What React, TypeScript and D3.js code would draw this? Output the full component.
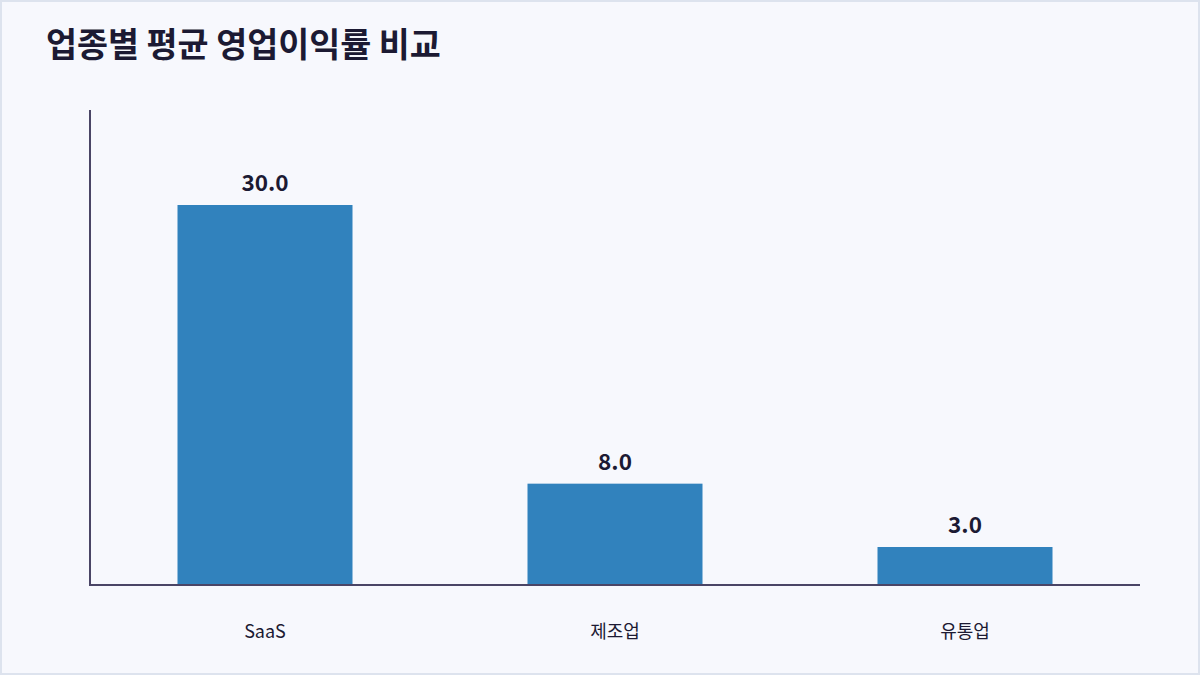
import React, { useEffect, useRef } from 'react';
import * as d3 from 'd3';

const categories = ['SaaS', '제조업', '유통업'];
const margins = [30.0, 8.0, 3.0];
const titleText = '업종별 평균 영업이익률 비교';

const W = 1200;
const H = 675;
const FONT = '"Noto Sans CJK KR", "Noto Sans", sans-serif';

const App: React.FC = () => {
  const svgRef = useRef<SVGSVGElement>(null);

  useEffect(() => {
    if (!svgRef.current) return;
    const svg = d3.select(svgRef.current);
    svg.selectAll('*').remove();

    svg.append('rect')
      .attr('x', 1).attr('y', 1)
      .attr('width', W - 2).attr('height', H - 2)
      .attr('fill', '#f7f8fd')
      .attr('stroke', '#dde3ee')
      .attr('stroke-width', 2);

    svg.append('text')
      .attr('x', 46).attr('y', 57)
      .attr('font-family', FONT)
      .attr('font-size', 33.7)
      .attr('font-weight', 700)
      .attr('fill', '#1c1a33')
      .text(titleText);

    const left = 90, right = 1140, top = 110, bottom = 585;

    const x = d3.scaleBand<string>()
      .domain(categories)
      .range([left, right])
      .paddingInner(0.5)
      .paddingOuter(0.25);

    const y = d3.scaleLinear()
      .domain([0, d3.max(margins)! * 1.25])
      .range([bottom, top]);

    const g = svg.append('g');

    g.selectAll('.bar')
      .data(margins)
      .enter()
      .append('rect')
      .attr('x', (_d, i) => x(categories[i])!)
      .attr('y', d => y(d))
      .attr('width', x.bandwidth())
      .attr('height', d => bottom - y(d))
      .attr('fill', '#3182bd');

    g.selectAll('.val')
      .data(margins)
      .enter()
      .append('text')
      .attr('x', (_d, i) => x(categories[i])! + x.bandwidth() / 2)
      .attr('y', d => y(d) - 14)
      .attr('text-anchor', 'middle')
      .attr('font-family', FONT)
      .attr('font-size', 22.5)
      .attr('font-weight', 700)
      .attr('fill', '#1c1a33')
      .text(d => d.toFixed(1));

    g.selectAll('.cat')
      .data(categories)
      .enter()
      .append('text')
      .attr('x', d => x(d)! + x.bandwidth() / 2)
      .attr('y', 638)
      .attr('text-anchor', 'middle')
      .attr('font-family', FONT)
      .attr('font-size', 18)
      .attr('fill', '#1c1a33')
      .text(d => d);

    // axes lines
    g.append('line')
      .attr('x1', left).attr('x2', left)
      .attr('y1', top).attr('y2', bottom + 1)
      .attr('stroke', '#4a4566').attr('stroke-width', 2);
    g.append('line')
      .attr('x1', left - 1).attr('x2', right)
      .attr('y1', bottom).attr('y2', bottom)
      .attr('stroke', '#4a4566').attr('stroke-width', 2);
  }, []);

  return (
    <div style={{ position: 'fixed', left: 0, top: 0, width: W, height: H }}>
      <svg ref={svgRef} width={W} height={H} style={{ display: 'block' }}></svg>
    </div>
  );
};

export default App;
